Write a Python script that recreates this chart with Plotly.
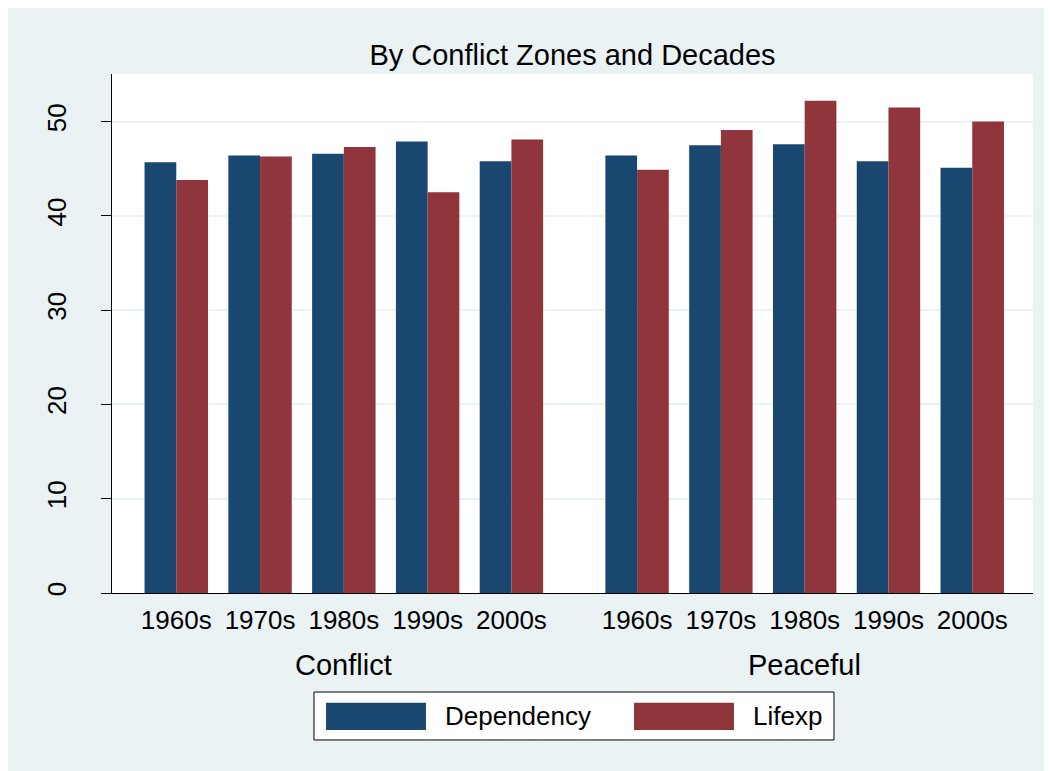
import plotly.graph_objects as go

groups = ["Conflict", "Peaceful"]
decades = ["1960s", "1970s", "1980s", "1990s", "2000s"]

dependency_conflict = [45.7, 46.4, 46.6, 47.9, 45.8]
lifexp_conflict = [43.8, 46.3, 47.3, 42.5, 48.1]
dependency_peaceful = [46.4, 47.5, 47.6, 45.8, 45.1]
lifexp_peaceful = [44.9, 49.1, 52.2, 51.5, 50.0]

y_ticks = [0, 10, 20, 30, 40, 50]

navy = "#1A476F"
maroon = "#90353B"
bg = "#EAF2F3"
font = "Liberation Sans, Arial, sans-serif"

# x positions: decades side by side, an extra half slot between the groups
step = len(decades) + 0.5
x_pos = []
x_text = []
group_mid = []
for gi, g in enumerate(groups):
    xs = [gi * step + di for di in range(len(decades))]
    x_pos += xs
    x_text += decades
    group_mid.append(sum(xs) / len(xs))

dependency = dependency_conflict + dependency_peaceful
lifexp = lifexp_conflict + lifexp_peaceful

fig = go.Figure()
fig.add_trace(go.Bar(x=x_pos, y=dependency, name="Dependency",
                     marker=dict(color=navy, line=dict(width=0))))
fig.add_trace(go.Bar(x=x_pos, y=lifexp, name="Lifexp",
                     marker=dict(color=maroon, line=dict(width=0))))

# legend drawn by hand, Stata-style wide swatches
shapes = [
    dict(type="rect", xref="paper", yref="paper", x0=0.2193, x1=0.7839, y0=-0.2832, y1=-0.1908,
         fillcolor="white", line=dict(color="black", width=1)),
    dict(type="rect", xref="paper", yref="paper", x0=0.2324, x1=0.3409, y0=-0.264, y1=-0.2114,
         fillcolor=navy, line=dict(width=0)),
    dict(type="rect", xref="paper", yref="paper", x0=0.5668, x1=0.6753, y0=-0.264, y1=-0.2114,
         fillcolor=maroon, line=dict(width=0)),
]

annotations = [
    dict(text=g, x=m, xref="x", y=-0.139, yref="paper", showarrow=False,
         xanchor="center", yanchor="middle", font=dict(size=29, color="black", family=font))
    for g, m in zip(groups, group_mid)
]
annotations += [
    dict(text="Dependency", x=0.3594, xref="paper", y=-0.237, yref="paper", showarrow=False,
         xanchor="left", yanchor="middle", font=dict(size=26, color="black", family=font)),
    dict(text="Lifexp", x=0.6938, xref="paper", y=-0.237, yref="paper", showarrow=False,
         xanchor="left", yanchor="middle", font=dict(size=26, color="black", family=font)),
]

fig.update_layout(
    width=1052, height=771,
    margin=dict(l=104, r=27, t=66, b=186),
    paper_bgcolor=bg,
    plot_bgcolor="white",
    barmode="group",
    bargap=0.243,
    bargroupgap=0,
    showlegend=False,
    font=dict(family=font, color="black"),
    title=dict(text="By Conflict Zones and Decades", x=0.5, xref="paper", xanchor="center",
               y=1 - 47 / 771, yanchor="middle", font=dict(size=29, color="black", family=font)),
    shapes=shapes,
    annotations=annotations,
)

fig.update_xaxes(
    range=[-0.767, 10.225],
    tickvals=x_pos, ticktext=x_text,
    ticks="", showgrid=False, zeroline=False,
    showline=True, linecolor="black", linewidth=1,
    ticklabelstandoff=4,
    tickfont=dict(size=26, color="black", family=font),
)

fig.update_yaxes(
    range=[0, 55.05],
    tickvals=y_ticks,
    ticks="outside", ticklen=10, tickcolor="black", tickwidth=1,
    tickangle=-90, ticklabelstandoff=25,
    showgrid=True, gridcolor=bg, gridwidth=2,
    zeroline=False,
    showline=True, linecolor="black", linewidth=1,
    tickfont=dict(size=26, color="black", family=font),
)

fig.write_html("out.html")
